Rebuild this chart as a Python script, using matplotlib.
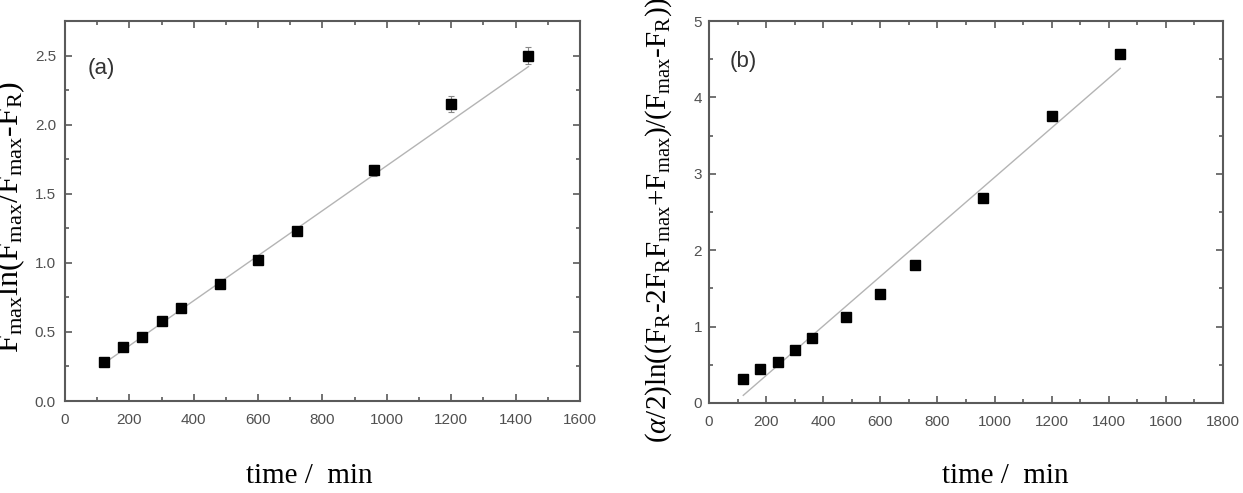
import numpy as np
import matplotlib.pyplot as plt
from matplotlib.ticker import MultipleLocator

# data
time_min = [120, 180, 240, 300, 360, 480, 600, 720, 960, 1200, 1440]
val_a = [0.28, 0.39, 0.46, 0.58, 0.67, 0.85, 1.02, 1.23, 1.67, 2.15, 2.50]
err_a = [0.02, 0.02, 0.02, 0.02, 0.02, 0.02, 0.02, 0.02, 0.04, 0.06, 0.06]
val_b = [0.31, 0.45, 0.54, 0.70, 0.85, 1.12, 1.42, 1.81, 2.68, 3.75, 4.57]

fit_x = [120, 1440]
fit_a = [0.27, 2.42]
fit_b = [0.10, 4.38]

plt.rcParams['mathtext.fontset'] = 'custom'
plt.rcParams['mathtext.rm'] = 'Liberation Serif'
plt.rcParams['mathtext.it'] = 'Liberation Serif:italic'
plt.rcParams['font.family'] = 'Liberation Sans'

fig = plt.figure(figsize=(12.43, 4.93), dpi=100)
ax1 = fig.add_axes([0.0523, 0.1866, 0.4143, 0.7708])
ax2 = fig.add_axes([0.5704, 0.1826, 0.4135, 0.7748])

spine_col = '#5a5a5a'
lab_col = '#505050'


def style(ax, xmax, xmaj, ymax, ymaj, ypad):
    ax.set_xlim(0, xmax)
    ax.set_ylim(0, ymax)
    ax.xaxis.set_major_locator(MultipleLocator(xmaj))
    ax.xaxis.set_minor_locator(MultipleLocator(xmaj / 2))
    ax.yaxis.set_major_locator(MultipleLocator(ymaj))
    ax.yaxis.set_minor_locator(MultipleLocator(ymaj / 2))
    ax.tick_params(which='both', direction='in', top=True, right=True,
                   color=spine_col, width=1.2, labelcolor=lab_col, labelsize=11)
    ax.tick_params(which='major', length=5)
    ax.tick_params(which='minor', length=3)
    ax.tick_params(axis='x', pad=8.5)
    ax.tick_params(axis='y', pad=ypad)
    for s in ax.spines.values():
        s.set_color(spine_col)
        s.set_linewidth(1.5)


# panel (a)
ax1.plot(fit_x, fit_a, color='#b4b4b4', lw=1.0, zorder=1)
ax1.errorbar(time_min, val_a, yerr=err_a, fmt='s', color='black', ms=6.5,
             ecolor='#888888', elinewidth=0.8, capsize=2.5, capthick=0.8, zorder=3)
style(ax1, 1600, 200, 2.75, 0.5, 6.5)
ax1.yaxis.set_major_formatter(plt.FormatStrFormatter('%.1f'))
ax1.text(0.043, 0.876, '(a)', transform=ax1.transAxes, fontsize=16,
         color='#333333', va='center')
fig.text(0.249, 0.035, 'time /  min', fontsize=21, family='Liberation Serif',
         ha='center', va='center')
fig.text(0.008, 0.56, r'$\mathrm{F_{max}ln(F_{max}/F_{max}\text{-}F_R)}$', fontsize=23,
         rotation=90, ha='center', va='center')

# panel (b)
ax2.plot(fit_x, fit_b, color='#b4b4b4', lw=1.0, zorder=1)
ax2.plot(time_min, val_b, 's', color='black', ms=6.5, zorder=3)
style(ax2, 1800, 200, 5, 1, 5)
ax2.text(0.041, 0.893, '(b)', transform=ax2.transAxes, fontsize=16,
         color='#333333', va='center')
fig.text(0.809, 0.035, 'time /  min', fontsize=21, family='Liberation Serif',
         ha='center', va='center')
fig.text(0.530, 0.555,
         r'$\mathrm{(}\mathit{\alpha}\mathrm{/2)ln((F_R\text{-}2F_RF_{max}\text{+}F_{max})/(F_{max}\text{-}F_R))}$',
         fontsize=21, rotation=90, ha='center', va='center')

fig.savefig('out.png', dpi=100)
